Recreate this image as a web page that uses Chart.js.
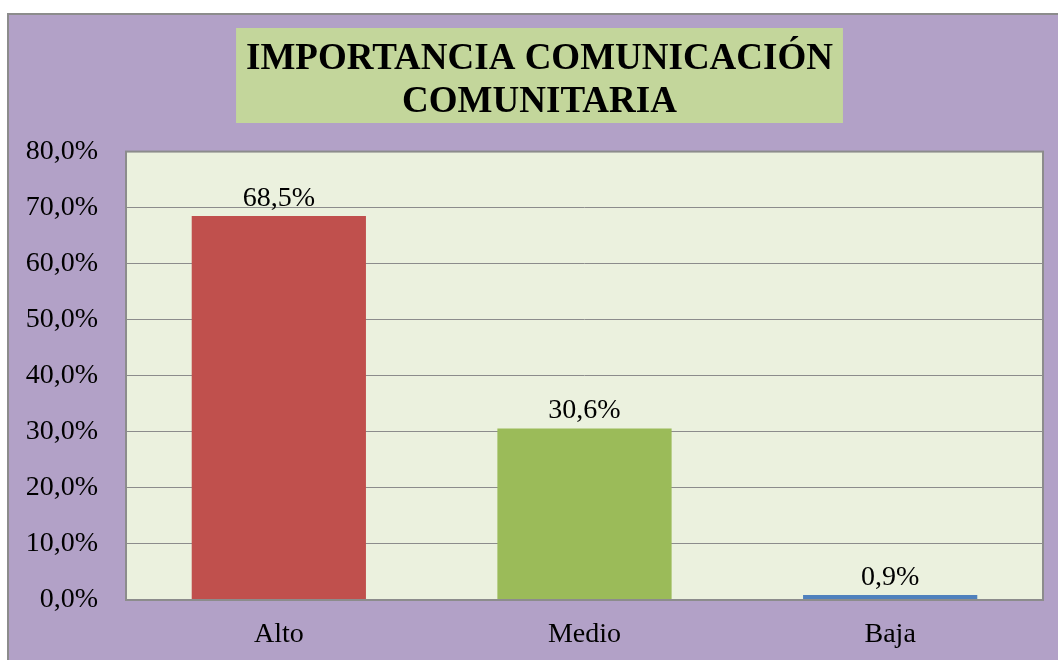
<!DOCTYPE html>
<html>
<head>
<meta charset="utf-8">
<script src="https://cdn.jsdelivr.net/npm/chart.js@4"></script>
<style>
  html, body { margin: 0; padding: 0; background: #fff; }
  #wrap { position: absolute; left: 0; top: 0; width: 1058px; height: 660px; }
</style>
</head>
<body>
<div id="wrap"><canvas id="chart"></canvas></div>
<script>
// datos
const categories = ['Alto', 'Medio', 'Baja'];
const values = [68.5, 30.6, 0.9];
const barColors = ['#C0504D', '#9BBB59', '#4F81BD'];
const titleLines = ['IMPORTANCIA COMUNICACIÓN', 'COMUNITARIA'];

const SERIF = '"Liberation Serif", "Times New Roman", serif';
const fmt = v => v.toFixed(1).replace('.', ',') + '%';

// fondo morado, borde exterior, caja del título y etiquetas de datos
const backdrop = {
  id: 'backdrop',
  afterLayout(chart) {
    // el título del original está centrado algo más a la derecha
    chart.titleBlock.left += 18;
    chart.titleBlock.right += 18;
  },
  beforeDraw(chart) {
    const { ctx, chartArea: a } = chart;
    ctx.save();
    ctx.fillStyle = '#FFFFFF';
    ctx.fillRect(0, 0, chart.width, chart.height);
    ctx.fillStyle = '#B2A1C7';
    ctx.fillRect(7, 13, chart.width - 7, chart.height - 13);
    ctx.strokeStyle = '#8C8C8C';
    ctx.lineWidth = 2;
    ctx.strokeRect(8, 14, chart.width + 4, chart.height + 4);
    ctx.fillStyle = '#EBF1DE';
    ctx.fillRect(a.left, a.top, a.right - a.left, a.bottom - a.top);

    const tb = chart.titleBlock;
    ctx.font = 'bold 37px ' + SERIF;
    const w = Math.max(...titleLines.map(t => ctx.measureText(t).width)) + 20;
    const cx = (tb.left + tb.right) / 2;
    ctx.fillStyle = '#C3D69B';
    ctx.fillRect(cx - w / 2, 28, w, 95);
    ctx.restore();
  },
  afterDatasetsDraw(chart) {
    const { ctx, chartArea: a } = chart;
    ctx.save();
    ctx.strokeStyle = '#8C8C8C';
    ctx.lineWidth = 2;
    ctx.strokeRect(a.left, a.top, a.right - a.left, a.bottom - a.top);
    const meta = chart.getDatasetMeta(0);
    ctx.fillStyle = '#000';
    ctx.font = '28px ' + SERIF;
    ctx.textAlign = 'center';
    ctx.textBaseline = 'alphabetic';
    meta.data.forEach((bar, i) => {
      ctx.fillText(fmt(values[i]), bar.x, bar.y - 10);
    });
    ctx.restore();
  }
};

new Chart(document.getElementById('chart'), {
  type: 'bar',
  data: {
    labels: categories,
    datasets: [{
      data: values,
      backgroundColor: barColors,
      borderWidth: 0,
      categoryPercentage: 1,
      barPercentage: 0.57
    }]
  },
  options: {
    responsive: true, maintainAspectRatio: false,
    animation: false,
    layout: { padding: { left: 0, right: 15, top: 0, bottom: 0 } },
    scales: {
      x: {
        grid: { display: false, drawTicks: false },
        border: { display: true, color: '#8C8C8C', width: 2 },
        ticks: { color: '#000', padding: 18, font: { family: SERIF, size: 28 } },
        afterFit: s => { s.height = 60; }
      },
      y: {
        min: 0, max: 80,
        grid: { color: '#8C8C8C', lineWidth: 1, drawTicks: false },
        border: { display: false },
        ticks: {
          stepSize: 10, color: '#000', padding: 28,
          font: { family: SERIF, size: 28 },
          callback: v => fmt(v)
        },
        afterFit: s => { s.width = 126; }
      }
    },
    plugins: {
      legend: { display: false },
      tooltip: { enabled: false },
      title: {
        display: true,
        text: titleLines,
        color: '#000',
        font: { family: SERIF, size: 37, weight: 'bold', lineHeight: 1.17 },
        padding: { top: 38, bottom: 27 }
      }
    }
  },
  plugins: [backdrop]
});
</script>
</body>
</html>
